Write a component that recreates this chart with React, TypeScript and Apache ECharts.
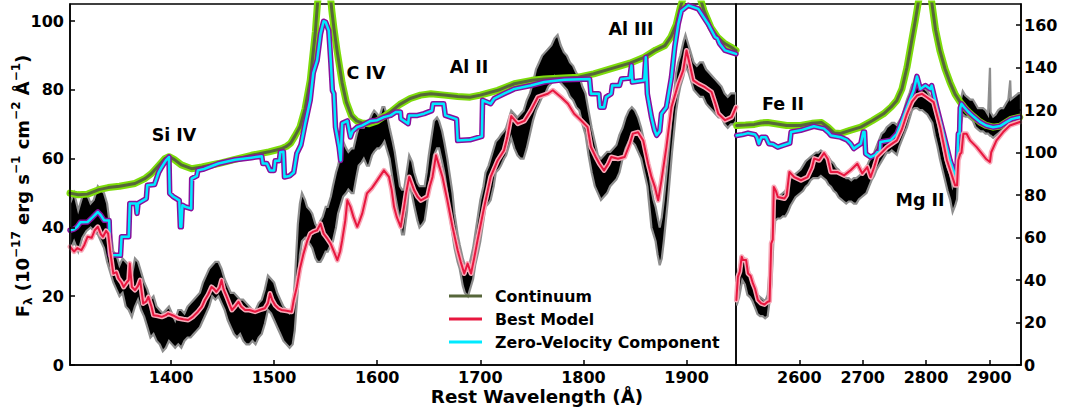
import React, { useEffect, useRef } from 'react';
import * as echarts from 'echarts';

// ---------- DATA ----------
// Observed spectrum envelope: [wavelength (Å), lower flux, upper flux]
const spectrumLeft: [number, number, number][] = [
  [1302,33,47],[1306,36,50],[1310,33,45],[1314,37,49],[1318,39,50],[1322,40,47],[1325,39,48],[1329,38,52],[1332,36,51],[1335,34,50],[1338,30,47],[1341,27,40],[1344,24,33],[1347,22,32],[1350,20,29],[1353,21,31],[1356,17,30],[1359,16,29],[1362,14,26],[1365,17,31],[1368,19,30],[1371,16,27],[1374,14,24],[1377,11,22],[1380,8,19],[1383,9,20],[1386,7,17],[1389,6,16],[1392,4,15],[1395,5,16],[1398,7,17],[1401,6,15],[1404,5,13],[1407,6,16],[1410,5,16],[1413,7,15],[1416,8,17],[1419,8,18],[1422,9,19],[1425,10,20],[1428,11,21],[1431,13,24],[1434,15,26],[1437,17,28],[1440,20,29],[1443,19,30],[1446,20,30],[1449,18,28],[1452,16,25],[1455,13,23],[1458,11,21],[1461,9,21],[1464,8,20],[1467,9,19],[1470,7,19],[1473,6,18],[1476,6,17],[1479,7,16],[1482,6,16],[1485,8,18],[1488,9,19],[1491,12,22],[1494,16,26],[1497,15,25],[1500,13,24],[1503,11,21],[1506,9,19],[1509,7,17],[1512,6,16],[1515,5,15],[1518,6,16],[1520,10,24],[1523,22,41],[1525,32,47],[1527,36,50],[1530,37,48],[1532,36,46],[1535,35,45],[1537,34,44],[1540,31,41],[1542,30,40],[1545,30,42],[1547,31,43],[1550,33,46],[1552,33,46],[1555,35,49],[1557,36,52],[1560,40,56],[1562,44,58],[1565,47,62],[1567,49,65],[1570,50,63],[1572,51,62],[1575,50,63],[1577,50,63],[1580,55,67],[1582,58,69],[1585,59,69],[1587,60,69],[1590,58,71],[1592,58,71],[1595,61,73],[1597,62,74],[1600,63,73],[1602,63,72],[1605,64,75],[1607,65,75],[1610,62,72],[1612,60,69],[1615,54,65],[1617,50,62],[1620,45,56],[1622,42,52],[1624,38,51],[1626,38,51],[1629,45,57],[1631,53,61],[1634,49,59],[1636,46,56],[1639,42,53],[1641,40,52],[1644,41,52],[1646,42,52],[1648,46,56],[1650,51,61],[1653,57,67],[1655,61,71],[1658,63,72],[1660,63,71],[1663,59,68],[1665,56,65],[1668,50,60],[1670,44,56],[1673,38,50],[1675,34,44],[1678,30,38],[1680,28,35],[1683,23,31],[1685,21,29],[1688,20,28],[1690,22,30],[1693,25,34],[1695,29,38],[1698,33,44],[1700,36,48],[1703,42,52],[1705,46,56],[1708,47,58],[1710,48,60],[1713,52,63],[1715,56,65],[1718,57,66],[1720,58,67],[1723,60,68],[1725,61,69],[1728,64,72],[1730,66,74],[1733,63,73],[1736,61,72],[1739,60,73],[1742,60,74],[1745,63,77],[1748,67,79],[1751,71,82],[1754,74,86],[1757,76,88],[1760,78,90],[1763,79,91],[1766,81,92],[1769,82,93],[1772,84,95],[1775,83,96],[1778,82,93],[1781,81,91],[1784,80,90],[1787,78,88],[1790,77,87],[1793,75,85],[1796,74,84],[1799,70,81],[1802,67,79],[1805,61,74],[1808,56,69],[1811,52,65],[1814,50,61],[1817,48,60],[1820,49,61],[1823,50,62],[1826,52,62],[1829,53,63],[1832,54,64],[1835,56,67],[1838,60,69],[1841,63,72],[1844,65,74],[1847,65,75],[1850,64,74],[1853,62,72],[1856,60,69],[1859,56,65],[1862,52,61],[1864,46,56],[1866,40,51],[1868,38,48],[1870,36,46],[1872,32,43],[1874,29,40],[1876,31,43],[1878,36,48],[1880,42,54],[1882,48,60],[1884,55,67],[1886,62,74],[1888,68,79],[1890,74,85],[1892,78,88],[1894,81,90],[1897,84,94],[1899,87,96],[1902,85,93],[1904,83,91],[1907,80,88],[1910,79,87],[1913,78,88],[1916,78,88],[1919,76,86],[1922,75,85],[1925,74,84],[1928,73,83],[1931,72,82],[1934,72,81],[1937,70,79],[1940,69,78],[1943,70,79],[1946,70,79],[1948,71,79]
];

const spectrumRight: [number, number, number][] = [
  [2501,28,40],[2505,32,46],[2510,40,51],[2514,38,50],[2518,33,48],[2522,32,42],[2526,30,38],[2530,27,35],[2534,24,33],[2538,23,32],[2542,23,31],[2546,22,30],[2550,23,33],[2553,30,45],[2556,38,61],[2559,58,74],[2562,68,78],[2566,69,79],[2570,69,80],[2574,70,81],[2578,70,82],[2582,72,85],[2586,75,88],[2590,77,89],[2594,79,90],[2598,80,91],[2602,81,92],[2606,82,94],[2610,84,96],[2614,85,97],[2618,87,98],[2622,88,99],[2626,88,100],[2630,88,100],[2634,89,101],[2638,88,100],[2642,87,99],[2646,85,98],[2650,84,96],[2654,82,95],[2658,81,93],[2662,79,92],[2666,78,90],[2670,77,89],[2674,76,88],[2678,77,88],[2682,77,87],[2686,76,88],[2690,76,88],[2694,78,89],[2698,79,90],[2702,80,92],[2706,81,93],[2710,84,96],[2714,87,98],[2718,89,100],[2722,92,103],[2726,94,106],[2730,96,109],[2734,98,110],[2738,100,112],[2742,100,113],[2746,101,114],[2750,100,114],[2754,99,113],[2758,103,115],[2762,106,117],[2766,109,121],[2770,112,125],[2774,116,128],[2778,120,132],[2782,121,133],[2786,121,132],[2790,120,131],[2794,120,131],[2798,119,130],[2802,118,129],[2806,116,127],[2810,114,125],[2814,108,120],[2818,103,115],[2822,97,109],[2826,92,104],[2830,87,98],[2834,82,93],[2838,78,90],[2842,72,84],[2846,75,87],[2849,78,90],[2852,100,118],[2855,113,125],[2858,118,129],[2862,117,127],[2866,117,126],[2870,116,125],[2874,115,125],[2878,112,123],[2882,111,121],[2886,110,121],[2890,110,121],[2894,109,120],[2898,109,118],[2901,108,140],[2902,108,119],[2906,107,117],[2910,108,118],[2914,109,120],[2918,110,121],[2922,111,121],[2926,111,123],[2930,112,125],[2933,113,134],[2934,113,125],[2938,114,126],[2942,114,127],[2946,115,128],[2950,116,128]
];

// Continuum model: [wavelength, flux]
const continuumLeft: [number, number][] = [
  [1302,50.0],[1310,49.5],[1319,49.7],[1330,51.0],[1339,51.6],[1350,52.0],[1365,52.8],[1375,54.3],[1381,55.7],[1388,58.0],[1394,60.0],[1398,60.6],[1403,59.8],[1410,58.2],[1420,57.1],[1430,57.6],[1446,58.6],[1462,59.8],[1478,61.0],[1495,62.0],[1507,62.9],[1512,63.6],[1516,64.5],[1520,66.5],[1525,69.2],[1530,74.5],[1535,82.8],[1540,97],[1542,105],[1545,112],[1548,116],[1550,117],[1552,115],[1554,109],[1556,103],[1558,98],[1561,91.5],[1566,82],[1570,76.5],[1575,72.5],[1580,71.0],[1585,70.4],[1592,70.2],[1600,71.0],[1613,73.6],[1622,75.8],[1632,77.5],[1642,78.5],[1652,78.9],[1665,78.5],[1678,78.1],[1690,77.9],[1700,78.5],[1717,79.9],[1733,81.8],[1750,82.8],[1762,83.2],[1780,83.5],[1795,83.7],[1810,84.7],[1827,86.2],[1845,87.8],[1859,89.5],[1870,91.6],[1879,92.9],[1885,95.5],[1890,99.0],[1894,104],[1900,110],[1906,112],[1912,108],[1917,103],[1924,98],[1930,95.4],[1937,93.5],[1943,92.5],[1948,91.5]
];

const continuumRight: [number, number][] = [
  [2501,112.8],[2515,113.0],[2529,113.3],[2540,114.0],[2550,114.2],[2565,113.5],[2580,112.8],[2602,112.8],[2620,113.8],[2635,114.2],[2645,112],[2655,109.2],[2665,109],[2680,110.5],[2697,112],[2715,115],[2733,118.3],[2745,121.5],[2754,124.6],[2762,130],[2770,140.2],[2777,152],[2783,162],[2788,171],[2795,180],[2800,183],[2805,179],[2809,171],[2815,158],[2822,148],[2830,139.5],[2838,133],[2846,127.5],[2854,123.8],[2860,121.5],[2866,119.5],[2875,117],[2885,114.5],[2895,112.8],[2906,112],[2917,112.5],[2925,114],[2935,115.8],[2948,116.7]
];

// Best model: [wavelength, flux]
const bestModelLeft: [number, number][] = [
  [1302,34.4],[1306,33],[1309,34],[1313,33.4],[1316,35],[1319,37.3],[1323,37],[1326,39.2],[1329,40.2],[1332,38],[1334,37.3],[1337,39],[1339,38.2],[1341,33],[1344,26.6],[1347,27],[1349,25.2],[1352,24],[1354,22.7],[1357,24],[1359,24.7],[1360,29.5],[1362,22.7],[1365,21.8],[1368,23],[1370,24.7],[1373,17.9],[1376,18.5],[1378,19.8],[1381,17],[1383,14.5],[1387,14.3],[1391,14],[1395,14.5],[1397,15],[1402,14.4],[1407,13.6],[1412,13.3],[1416.6,13.1],[1421,14],[1426,15.5],[1430,17],[1432.8,18.9],[1436,20.5],[1439.3,22.7],[1442,22],[1444,21.3],[1447,22.5],[1449,24.7],[1451,22],[1454,19.8],[1457,17.5],[1459,16],[1462,17],[1465.4,18.4],[1468,17],[1471.8,16],[1476,16],[1481.5,15.5],[1486,16],[1491,16.5],[1494,18],[1496,20.8],[1498,19],[1501,17.4],[1504,16.5],[1507,16],[1512,15.8],[1517,15.5],[1519,18.9],[1522,22.7],[1525,28],[1528.5,32.4],[1532,36],[1535,38.2],[1538,38.8],[1541.7,39.2],[1545,41.1],[1548,38.2],[1551,37],[1554.8,35.3],[1558,33],[1561.3,30.5],[1564,33],[1566,36.3],[1569,42],[1571,47.9],[1574,46],[1577,43],[1580.6,40.2],[1583,42],[1585.5,44.1],[1590,49.9],[1595,51.5],[1600,53.7],[1606.5,56.6],[1611.4,54.7],[1614,51],[1616.3,46],[1619,43],[1622.8,40.2],[1626,46],[1628,50],[1631,54.7],[1635.8,50.8],[1639,49],[1642.3,47.9],[1648.8,49],[1651,52],[1653.6,54.7],[1657,61],[1660,58],[1663.3,54.7],[1668,47.9],[1673,40.2],[1678,33.4],[1681,30],[1684.4,26.6],[1687.7,29.5],[1691,26.6],[1694,31],[1697.3,36.3],[1703.8,46],[1710,54.7],[1716.8,59.5],[1723,62.4],[1726,66],[1730,72.4],[1736.3,70.2],[1742.8,71],[1749,74],[1755.7,77.9],[1765.4,78.9],[1770.3,79.9],[1778.4,77.9],[1785,76],[1791,73.1],[1797.6,71.2],[1804,69.2],[1807.3,63.4],[1812,60.5],[1815.4,58.6],[1820,56.6],[1824,58.5],[1827,60.5],[1833.5,60],[1840,60.5],[1845,64.4],[1848,67.3],[1853,67.7],[1858,65.3],[1862.7,58.6],[1866,54.7],[1869.3,51.8],[1872.5,47.9],[1875.7,53.7],[1880.5,63.4],[1885.4,75],[1892,81.8],[1896.8,85.7],[1900,91.5],[1903,87.6],[1906.5,82.8],[1911.4,81.8],[1917.8,80.8],[1924.3,79.4],[1928,76],[1930.8,73.1],[1937.4,71.2],[1943.9,72.1],[1948,75]
];

const bestModelRight: [number, number][] = [
  [2500.6,30.6],[2503,41.5],[2506,44],[2509,51],[2511,49.4],[2516,49.4],[2519,43.1],[2523,42],[2526.7,38.4],[2530,36],[2534.5,30.6],[2540,29],[2545,28.5],[2550,29.8],[2553,30],[2555.6,57.2],[2558,59],[2559.7,83.8],[2563,82],[2566,79.1],[2576.5,78.4],[2580,80],[2584.3,90.9],[2592,88.5],[2602.6,87],[2613,88.5],[2620,93],[2623.5,97.2],[2631.4,96.4],[2639,99.8],[2645,97],[2649.7,90.9],[2660,90.9],[2670.6,89.3],[2681,91.7],[2691.5,94.8],[2699.4,90.2],[2707.2,93.2],[2712.5,88.5],[2718,93],[2723,97.9],[2738.6,102.6],[2754,105.8],[2762,111],[2770,118.3],[2778,124],[2785.7,126.9],[2793.6,127.7],[2801.4,126.1],[2812,123.8],[2822.4,112],[2833,96.4],[2846,84.6],[2849,84.6],[2851,96.4],[2854,99.5],[2856,100],[2859,108.9],[2864,108.9],[2869.5,105.8],[2880,102.6],[2890.4,98.7],[2895,97],[2901,95.6],[2903,100.2],[2911.3,105.8],[2921.8,109.7],[2932.3,112.8],[2948,114.4]
];

// Zero-velocity component: [wavelength, flux]
const zeroVelLeft: [number, number][] = [
  [1302,39.2],[1306,39.5],[1309,40.2],[1312,41.5],[1319,41.6],[1324,43],[1329,44.5],[1332,43.5],[1335,42.1],[1340,42],[1341,32],[1351,31.9],[1352,37.3],[1359,37.3],[1360,47],[1366,47],[1367,44.1],[1368,47],[1376,48.4],[1377,52.3],[1384,52.5],[1388,56],[1391,57.6],[1395,59.5],[1398,60.5],[1398.7,49.9],[1402,49],[1408,47.9],[1409,40.2],[1410,40.2],[1411,46.5],[1414,46],[1419.5,45.5],[1420,54.2],[1425,55],[1426,56.6],[1432,57],[1446,58.6],[1462,59.7],[1478,60.3],[1488,60.7],[1489,58.6],[1493,58.6],[1496,56.6],[1500,56.6],[1501,59.4],[1505,59.4],[1506,61.9],[1509,62],[1510,54.7],[1515,55],[1517,55.5],[1519,56],[1522,61.5],[1526,64],[1530,70],[1535,77],[1538,85],[1541.7,88.6],[1545,96.3],[1548,100],[1550,99.7],[1553,97.3],[1555,88],[1556.5,79.9],[1558,78.9],[1559.5,69.2],[1563,63.4],[1564.5,59.5],[1566,70.3],[1571,71],[1574,66.3],[1576,68],[1580.6,69.2],[1585.5,69.7],[1593.6,71],[1600,71.2],[1606.5,72.1],[1613,72.6],[1618,73.6],[1622.5,73.6],[1623,71.6],[1630,70.2],[1631,72.6],[1639,72.6],[1645.5,73.1],[1653,74],[1654,76],[1664.5,76],[1666,72.6],[1677,71.5],[1678,65.3],[1690,65.5],[1701.5,66.5],[1702.2,77],[1710,76],[1713.5,77.5],[1723,78.9],[1733,80.3],[1749,81.3],[1762,82.3],[1781.5,83],[1806,83.2],[1807.3,78.9],[1815,78.9],[1816,75],[1820,75],[1821.9,77.9],[1827,78.9],[1828,81.3],[1835,81.3],[1836.8,83.2],[1845,83.5],[1846.6,87.1],[1847.5,82.3],[1859,82.8],[1860.5,89.5],[1862,78.9],[1866,72.1],[1869,68.3],[1871,66.8],[1874,68],[1875.7,73.1],[1880.5,75],[1885.4,83.7],[1888.6,92.5],[1892,99.2],[1895,103],[1901.7,104.6],[1911.4,103.6],[1921,99.2],[1927.7,95.4],[1930,95],[1932,93.5],[1937.4,91.5],[1948,90.5]
];

const zeroVelRight: [number, number][] = [
  [2501,108.1],[2510,108.5],[2519,109.2],[2530,108.5],[2533,107.3],[2536,104.2],[2540,107.3],[2547,107.3],[2552,104.2],[2558,104],[2566,102.6],[2575,103.5],[2585,104.5],[2587,109.7],[2602,110.5],[2623,112.4],[2639,111.3],[2646,109.5],[2650,108.1],[2665,107.3],[2675,106],[2681,104.2],[2686,101.9],[2697,104.2],[2701,109.7],[2703,109.7],[2704.7,99.5],[2712.5,97.9],[2720,99],[2723,100.2],[2727,100.5],[2728,105],[2744,105.8],[2754,108.9],[2762,115],[2770,121.4],[2780.5,129.3],[2785.7,135.9],[2791,130],[2799,131.6],[2806.7,130],[2809,131.6],[2817,121.4],[2827.6,108.9],[2838,96.4],[2846,89.3],[2848.5,89.3],[2851,108.9],[2853,109],[2854,121],[2856,123],[2860,121.5],[2866,119.5],[2875,117],[2885,114.5],[2895,112.8],[2906,112],[2917,112.5],[2925,114],[2935,115.8],[2948,116.7]
];

const leftXTicks = [1400, 1500, 1600, 1700, 1800, 1900];
const rightXTicks = [2600, 2700, 2800, 2900];
const leftYTicks = [0, 20, 40, 60, 80, 100];
const rightYTicks = [0, 20, 40, 60, 80, 100, 120, 140, 160];
const legendNames = ['Continuum', 'Best Model', 'Zero-Velocity Component'];
const lineNames = ['Si IV', 'C IV', 'Al II', 'Al III', 'Fe II', 'Mg II'];
const xTitle = 'Rest Wavelength (Å)';

// ---------- STYLE ----------
const FONT = "'DejaVu Sans', 'Liberation Sans', sans-serif";
const C_HALO = '#7ddc0a';
const C_CONT = '#56663a';
const C_PURPLE = '#8a0f9c';
const C_CYAN = '#00eaff';
const C_PINK = '#f7a9b8';
const C_RED = '#e8173f';

function line(name: string, data: [number, number][], panel: number, color: string, width: number, z: number) {
  return {
    name,
    type: 'line',
    xAxisIndex: panel,
    yAxisIndex: panel,
    data,
    symbol: 'none',
    showSymbol: false,
    clip: true,
    silent: true,
    z,
    lineStyle: { color, width, join: 'round', cap: 'round' },
    itemStyle: { color },
    emphasis: { disabled: true },
  };
}

function band(panel: number, rows: [number, number, number][]) {
  return {
    name: 'Spectrum',
    type: 'custom',
    xAxisIndex: panel,
    yAxisIndex: panel,
    clip: true,
    silent: true,
    z: 1,
    data: [[rows[0][0], rows[0][1]]],
    encode: { x: 0, y: 1 },
    renderItem: (_params: any, api: any) => {
      const pts: number[][] = [];
      for (let i = 0; i < rows.length; i++) pts.push(api.coord([rows[i][0], rows[i][2]]));
      for (let i = rows.length - 1; i >= 0; i--) pts.push(api.coord([rows[i][0], rows[i][1]]));
      return {
        type: 'polygon',
        shape: { points: pts },
        style: { fill: '#000', stroke: '#8e8e8e', lineWidth: 2.2, lineJoin: 'miter' },
      };
    },
  };
}

const tickLabel = { fontFamily: FONT, fontWeight: 'bold', fontSize: 16, color: '#000', formatter: (v: number) => String(v) };

function xAxis(panel: number, min: number, max: number, ticks: number[]) {
  return {
    gridIndex: panel,
    type: 'value',
    min,
    max,
    z: 10,
    axisLine: { show: true, lineStyle: { color: '#000', width: 1.5 } },
    axisTick: { show: true, inside: true, length: 5, lineStyle: { color: '#000', width: 1.5 }, customValues: ticks },
    axisLabel: { ...tickLabel, margin: 4, customValues: ticks },
    splitLine: { show: false },
  };
}

function yAxis(panel: number, min: number, max: number, ticks: number[], position: string) {
  return {
    gridIndex: panel,
    type: 'value',
    min,
    max,
    position,
    z: 10,
    axisLine: { show: true, lineStyle: { color: '#000', width: 1.5 } },
    axisTick: { show: true, inside: true, length: 5, lineStyle: { color: '#000', width: 1.5 }, customValues: ticks },
    axisLabel: { ...tickLabel, margin: position === 'left' ? 6 : 3, customValues: ticks },
    splitLine: { show: false },
  };
}

const annoPos: [number, number][] = [[174, 135], [366, 73], [469, 67], [631, 29], [783, 104], [920, 200]];

export default function App() {
  const ref = useRef<HTMLDivElement>(null);
  useEffect(() => {
    if (!ref.current) return;
    const chart = echarts.init(ref.current, undefined, { renderer: 'svg' });
    const series: any[] = [];
    const panels: [[number, number, number][], [number, number][], [number, number][], [number, number][]][] = [
      [spectrumLeft, continuumLeft, zeroVelLeft, bestModelLeft],
      [spectrumRight, continuumRight, zeroVelRight, bestModelRight],
    ];
    panels.forEach(([spec, cont, zv, bm], p) => {
      series.push(band(p, spec));
      series.push(line('Continuum halo', cont, p, C_HALO, 7, 2));
      series.push(line(legendNames[0], cont, p, C_CONT, 3, 3));
      series.push(line('Zero-Velocity outline', zv, p, C_PURPLE, 5.5, 4));
      series.push(line(legendNames[2], zv, p, C_CYAN, 2.5, 5));
      series.push(line('Best Model halo', bm, p, C_PINK, 5, 6));
      series.push(line(legendNames[1], bm, p, C_RED, 2, 7));
    });

    const rich = {
      n: { fontFamily: FONT, fontWeight: 'bold', fontSize: 18, lineHeight: 24, color: '#000' },
      sup: { fontFamily: FONT, fontWeight: 'bold', fontSize: 12, lineHeight: 12, verticalAlign: 'top', color: '#000' },
      sub: { fontFamily: FONT, fontWeight: 'bold', fontSize: 12, lineHeight: 12, verticalAlign: 'bottom', color: '#000' },
    };

    const graphics: any[] = lineNames.map((t, i) => ({
      type: 'text',
      x: annoPos[i][0],
      y: annoPos[i][1],
      z: 20,
      silent: true,
      style: { text: t, fontFamily: FONT, fontWeight: 'bold', fontSize: 17.5, fill: '#000', align: 'center', verticalAlign: 'middle' },
    }));
    graphics.push({
      type: 'text',
      x: 537,
      y: 396,
      z: 20,
      silent: true,
      style: { text: xTitle, fontFamily: FONT, fontWeight: 'bold', fontSize: 18.3, fill: '#000', align: 'center', verticalAlign: 'middle' },
    });
    graphics.push({
      type: 'text',
      x: 22,
      y: 186,
      rotation: Math.PI / 2,
      z: 20,
      silent: true,
      style: {
        text: '{n|F}{sub|λ}{n| (10}{sup|−17}{n| erg s}{sup|−1}{n| cm}{sup|−2}{n| Å}{sup|−1}{n|)}',
        rich,
        align: 'center',
        verticalAlign: 'middle',
      },
    });

    chart.setOption({
      animation: false,
      backgroundColor: '#fff',
      grid: [
        { left: 70, top: 4, width: 666, height: 361, show: true, borderColor: '#000', borderWidth: 1.5, backgroundColor: 'transparent' },
        { left: 736, top: 4, width: 285, height: 361, show: true, borderColor: '#000', borderWidth: 1.5, backgroundColor: 'transparent' },
      ],
      xAxis: [xAxis(0, 1302, 1948, leftXTicks), xAxis(1, 2500, 2950, rightXTicks)],
      yAxis: [yAxis(0, 0, 105, leftYTicks, 'left'), yAxis(1, 0, 170, rightYTicks, 'right')],
      legend: {
        data: legendNames,
        orient: 'vertical',
        left: 449,
        top: 287,
        padding: 0,
        icon: 'rect',
        itemWidth: 33,
        itemHeight: 3,
        itemGap: 5,
        selectedMode: false,
        textStyle: { fontFamily: FONT, fontWeight: 'bold', fontSize: 15.8, color: '#000', lineHeight: 18, padding: [0, 0, 0, 8] },
      },
      series,
      graphic: graphics,
    });
    return () => chart.dispose();
  }, []);
  return <div ref={ref} style={{ position: 'absolute', left: 0, top: 0, width: 1065, height: 408 }} />;
}
